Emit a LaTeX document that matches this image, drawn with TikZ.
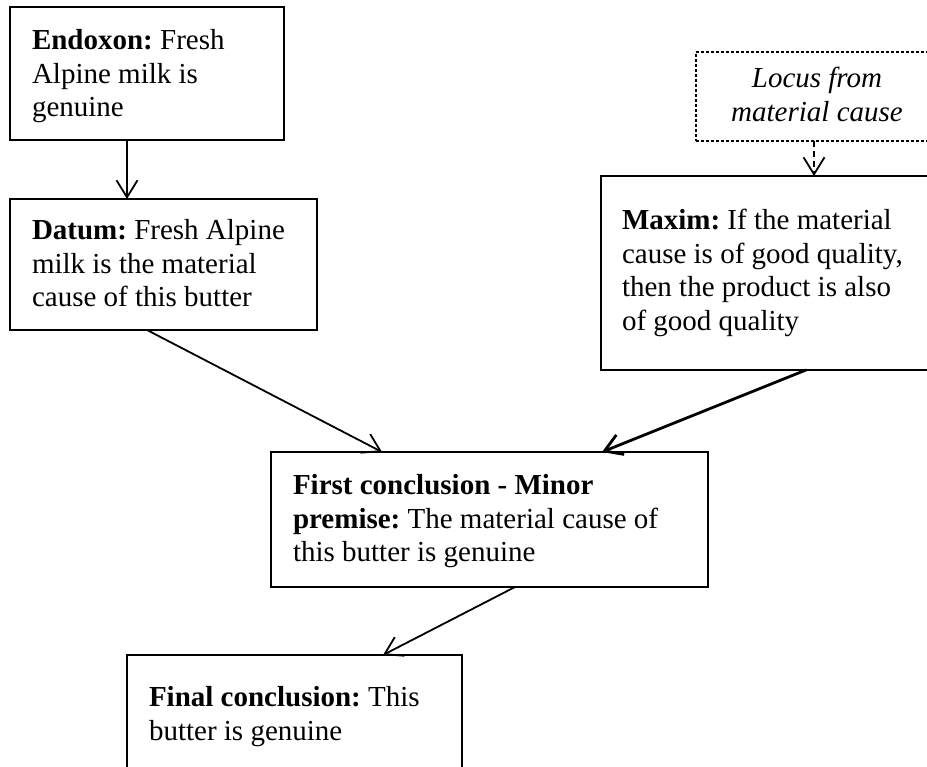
\documentclass[tikz,border=0pt]{standalone}
\usepackage{fontspec}
\setmainfont{Liberation Serif}
\frenchspacing
\usetikzlibrary{arrows.meta,calc}

\begin{document}
\begin{tikzpicture}[x=1pt,y=-1pt,
  frame/.style={draw, line width=1.7pt, inner sep=0pt, outer sep=0pt, anchor=north west},
  dotframe/.style={frame, line width=1.1pt, dash pattern=on 3pt off 2pt},
  txt/.style={inner sep=0pt, outer sep=0pt, anchor=north west, align=left,
              font={\fontsize{29}{33.5}\selectfont}},
  link/.style={line width=1.8pt, -{Straight Barb[length=17pt,width=21pt]}},
  heavylink/.style={link, line width=2.8pt},
  dashlink/.style={link, dash pattern=on 6pt off 4pt}
]
\useasboundingbox (0,0) rectangle (927,767);
\clip (0,0) rectangle (927,767);

% boxes
\node[frame, minimum width=274pt, minimum height=133pt] (endoxon) at (10,7) {};
\node[frame, minimum width=307pt, minimum height=131pt] (datum) at (10,199) {};
\node[dotframe, minimum width=242pt, minimum height=89pt] (locus) at (696,52) {};
\node[frame, minimum width=340pt, minimum height=194pt] (maxim) at (601,176) {};
\node[frame, minimum width=437pt, minimum height=135pt] (first) at (271,452) {};
\node[frame, minimum width=335pt, minimum height=150pt] (final) at (127,655) {};

% texts
\node[txt] (endoxon-t) at (32,26.5) {\strut\textbf{Endoxon:} Fresh\\Alpine milk is\\genuine};
\node[txt] (datum-t) at (32,216.5) {\strut\textbf{Datum:} Fresh Alpine\\milk is the material\\cause of this butter};
\node[txt, anchor=north, align=center] (locus-t) at (817,64.5) {\strut\itshape Locus from\\\itshape material cause};
\node[txt] (maxim-t) at (622,206.5) {\strut\textbf{Maxim:} If the material\\cause is of good quality,\\then the product is also\\of good quality};
\node[txt] (first-t) at (293,471.5) {\strut\textbf{First conclusion - Minor}\\\textbf{premise:} The material cause of\\this butter is genuine};
\node[txt] (final-t) at (149,683.5) {\strut\textbf{Final conclusion:} This\\butter is genuine};

% connectors
\draw[link] ($(endoxon.south west)+(117,0)$) -- ($(datum.north west)+(117,0)$);
\draw[dashlink] ($(locus.south west)+(118,0)$) -- ($(maxim.north west)+(213,0)$);
\draw[link] ($(datum.south west)+(137,0)$) -- ($(first.north west)+(111,0)$);
\draw[heavylink] ($(maxim.south west)+(205,0)$) -- ($(first.north west)+(331,0)$);
\draw[link] ($(first.south west)+(244,0)$) -- ($(final.north west)+(256,0)$);
\end{tikzpicture}
\end{document}
